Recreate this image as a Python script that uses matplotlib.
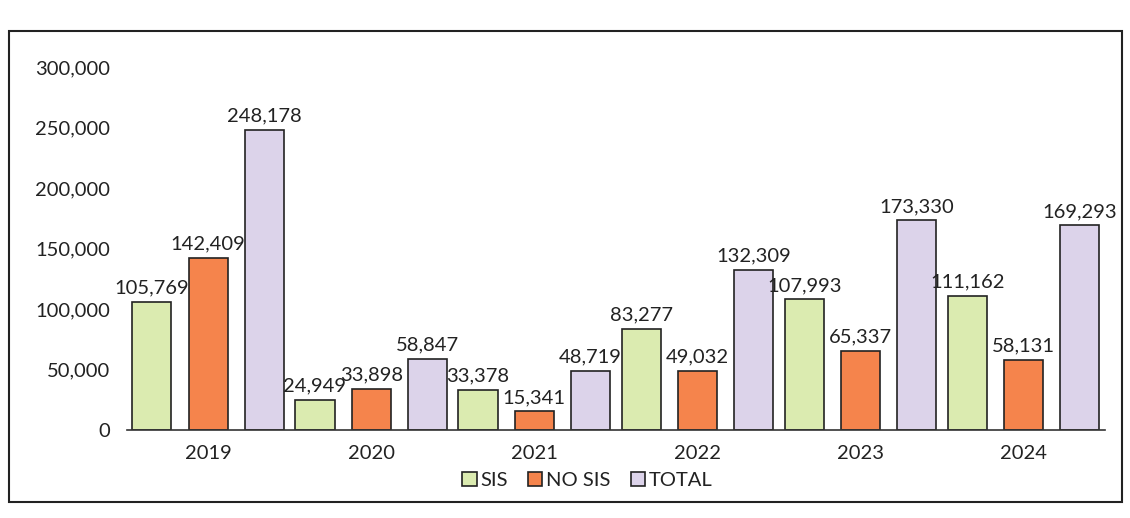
import matplotlib
matplotlib.use('Agg')
import matplotlib.pyplot as plt
from matplotlib.patches import Rectangle
import numpy as np

years = ['2019', '2020', '2021', '2022', '2023', '2024']
sis = [105769, 24949, 33378, 83277, 107993, 111162]
no_sis = [142409, 33898, 15341, 49032, 65337, 58131]
total = [248178, 58847, 48719, 132309, 173330, 169293]

plt.rcParams['font.family'] = ['Lato', 'DejaVu Sans']

fig = plt.figure(figsize=(11.3, 5.18), dpi=100)
ax = fig.add_axes([0.112, 0.17, 0.866, 0.70])

x = np.arange(len(years))
w = 0.24
off = 0.345
series = [(sis, '#dbebb0', 'SIS'), (no_sis, '#f5844c', 'NO SIS'), (total, '#dcd3ea', 'TOTAL')]
for i, (vals, col, name) in enumerate(series):
    bars = ax.bar(x + (i - 1) * off, vals, w, color=col, edgecolor='#222222',
                  linewidth=1.2, label=name)
    for b, v in zip(bars, vals):
        ax.text(b.get_x() + b.get_width() / 2, v + 4500, f'{v:,}',
                ha='center', va='bottom', fontsize=14.5, color='#222222')

ax.set_xlim(-0.5, len(years) - 0.5)
ax.set_ylim(0, 300000)
ax.set_yticks(range(0, 300001, 50000))
ax.yaxis.set_major_formatter(matplotlib.ticker.FuncFormatter(lambda v, p: f'{int(v):,}'))
ax.set_xticks(x)
ax.set_xticklabels(years)
ax.tick_params(axis='both', length=0, labelsize=14.5, colors='#222222', pad=11)
ax.tick_params(axis='y', pad=12)
for s in ['top', 'right', 'left']:
    ax.spines[s].set_visible(False)
ax.spines['bottom'].set_color('#333333')
ax.spines['bottom'].set_linewidth(1.2)

fig.legend(loc='center', bbox_to_anchor=(0.52, 0.072), ncol=3, frameon=False,
           fontsize=14.5, handlelength=0.7, handleheight=0.7, handletextpad=0.2,
           columnspacing=1.0, labelcolor='#222222')

fig.patches.append(Rectangle((0.008, 0.03), 0.985, 0.91, transform=fig.transFigure,
                             fill=False, edgecolor='#222222', linewidth=1.5))

plt.savefig('out.png', dpi=100)
plt.close()
